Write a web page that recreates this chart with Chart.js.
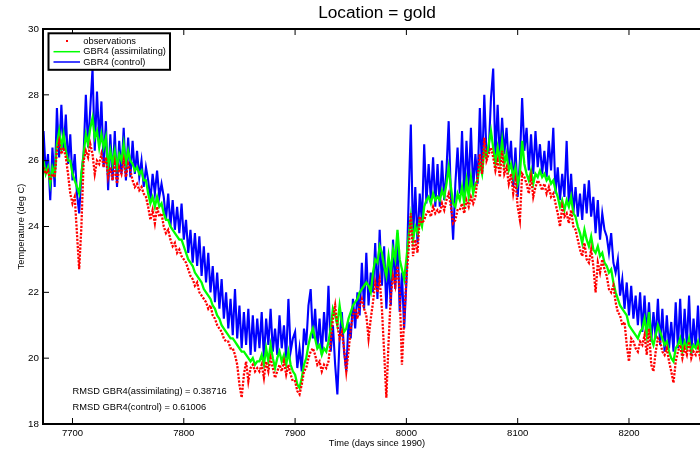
<!DOCTYPE html>
<html>
<head>
<meta charset="utf-8">
<script src="https://cdn.jsdelivr.net/npm/chart.js@4"></script>
<style>
  html, body { margin: 0; padding: 0; background: #fff; overflow: hidden; }
  #wrap { width: 720px; height: 454px; }
</style>
</head>
<body>
<div id="wrap"><canvas id="c" width="720" height="454"></canvas></div>
<script>
// ---- labels -------------------------------------------------------------
const chartTitle = 'Location = gold';
const xAxisTitle = 'Time (days since 1990)';
const yAxisTitle = 'Temperature (deg C)';
const seriesNames = ['observations', 'GBR4 (assimilating)', 'GBR4 (control)'];

const xTicks = [7700, 7800, 7900, 8000, 8100, 8200];
const xTickLabels = ['7700', '7800', '7900', '8000', '8100', '8200'];
const yTicks = [18, 20, 22, 24, 26, 28, 30];
const yTickLabels = ['18', '20', '22', '24', '26', '28', '30'];

// sampling grid: one value every two days starting at day 7674
const firstDay = 7674;
const dayStep = 2;

// ---- temperatures (deg C) ----------------------------------------------
const observations = [
  25.8, 25.6, 25.7, 25.4, 25.6, 25.5,
  26.3, 26.6, 26.2, 26.4, 26.1, 25.6,
  25.0, 24.7, 24.9, 23.8, 22.7, 24.0,
  26.0, 26.3, 26.1, 26.5, 26.2, 25.6, 26.0, 25.9,
  26.2, 25.8, 26.1, 25.5, 25.8, 25.4,
  25.9, 25.3, 25.8, 25.6, 26.0, 25.5, 25.9, 25.7,
  25.4, 25.2, 25.3, 25.1, 25.2, 25.0, 24.9,
  24.6, 24.2, 24.5, 24.1, 24.6, 24.3, 24.4,
  24.0, 23.8, 23.9, 23.6, 23.4, 23.5, 23.2, 23.3, 23.1, 23.0,
  22.9, 22.7, 22.5, 22.4, 22.2, 22.3, 22.0, 21.9, 21.8, 21.7, 21.5, 21.6, 21.3, 21.2, 21.0,
  20.9, 20.8, 20.6, 20.5, 20.5, 20.3, 20.3, 20.1, 19.8, 19.2, 18.8, 19.5, 19.9, 19.3, 19.7, 19.8, 19.6, 19.7,
  19.6, 19.8, 19.4, 19.9, 19.6, 20.0, 19.7, 19.4, 19.6, 19.8, 19.6, 19.9, 19.5, 19.8, 19.5, 19.3,
  19.3, 19.0, 18.9, 19.2, 19.6,
  19.7, 20.0, 20.2, 20.3, 20.1, 19.8, 19.9, 19.6, 19.8, 19.7, 19.9,
  20.5, 21.2, 21.6, 21.0, 20.6, 20.8, 20.3, 19.6, 20.2,
  20.9, 21.3, 21.5, 21.2, 21.6, 21.8, 21.5, 21.3, 20.6, 21.2,
  21.7, 22.3, 22.0, 22.4, 21.5, 20.2, 18.8, 20.5,
  21.9, 22.5, 22.2, 22.8, 22.0, 19.8, 21.2, 22.4,
  23.3, 24.4, 23.1, 23.6, 23.2, 24.3, 24.1,
  24.2, 24.4, 24.5, 24.3, 24.6, 24.4,
  24.5, 24.4, 24.7, 24.5, 24.8, 25.0, 24.6, 24.1, 24.2, 24.5,
  24.5, 24.7, 24.4, 24.8, 24.6, 24.9, 24.7, 24.9,
  25.5, 26.2, 25.6, 26.7, 26.0,
  26.2, 26.4, 26.1, 25.7,
  26.0, 25.5, 26.3, 25.6, 25.8, 25.3, 25.6,
  25.0, 25.4, 24.6, 24.2, 25.6, 25.5,
  25.3, 25.0, 25.5, 24.9, 25.2, 25.4,
  25.3, 25.1, 25.3, 25.0, 25.2, 24.9, 25.0,
  24.7, 24.4, 24.0, 24.6, 24.3,
  24.4, 24.1, 24.5, 24.0, 23.9,
  23.6, 23.3, 23.1, 23.5, 23.0, 22.9, 23.3, 22.8,
  22.0, 22.9, 22.6, 23.0, 22.7, 22.5, 22.1, 22.0, 22.2,
  21.7, 21.4, 21.3, 21.0, 21.1,
  20.4, 19.9, 20.6, 20.5, 20.3, 20.2, 20.5,
  20.4, 20.7, 20.1, 20.9, 19.8, 19.6, 20.2, 20.6,
  20.5, 20.2, 20.1, 20.3, 19.9, 19.6, 19.25, 19.9,
  20.2, 20.4, 20.0, 20.3, 20.1, 20.5, 20.0, 20.2, 20.1, 20.3, 20.0, 20.2, 20.1, 20.3, 20.2
];

const assimilating = [
  26.0, 25.6, 25.8, 25.3, 25.8, 25.6,
  26.5, 26.9, 26.4, 26.8, 26.3, 26.0,
  26.0, 25.6, 25.4, 25.2, 25.0, 25.6,
  26.2, 26.8, 26.5, 27.0, 27.3, 26.7, 26.9, 26.4,
  26.8, 26.4, 26.7, 25.8, 26.3, 25.9,
  26.3, 25.8, 26.2, 26.0, 26.5, 25.9, 26.3, 26.0,
  25.9, 25.7, 25.8, 25.6, 25.7, 25.4, 25.4,
  25.0, 24.7, 24.9, 24.6, 24.9, 24.6, 24.7,
  24.4, 24.2, 24.2, 24.0, 23.9, 23.8, 23.7, 23.6, 23.6, 23.4,
  23.2, 23.0, 22.9, 22.8, 22.6, 22.5, 22.4, 22.3, 22.1, 22.0, 21.9, 21.8, 21.6, 21.5, 21.3,
  21.2, 21.0, 20.9, 20.8, 20.7, 20.6, 20.6, 20.5, 20.4, 20.3, 20.2, 20.2, 20.1, 20.0, 19.9, 20.0, 19.8, 19.9,
  19.9, 20.1, 19.8, 20.3, 19.9, 20.4, 20.0, 19.7, 20.0, 20.2, 19.9, 20.1, 19.8, 20.2, 19.8, 19.6,
  19.5, 19.2, 19.1, 19.4, 19.8,
  20.0, 20.4, 20.7, 20.9, 20.6, 20.3, 20.4, 20.1, 20.3, 20.2, 20.5,
  20.9, 21.5, 21.3, 21.0, 21.6, 21.1, 20.8, 20.9, 21.2,
  21.4, 21.6, 21.7, 21.8, 22.0, 22.1, 22.2, 22.3, 22.2, 22.0,
  22.6, 23.0, 22.9, 23.4, 23.2, 22.8, 22.5, 23.1,
  22.6, 23.3, 23.0, 23.9, 23.0, 22.7, 22.4, 23.0,
  23.7, 24.3, 23.6, 24.0, 23.8, 24.2, 24.0,
  24.6, 24.8, 24.9, 24.7, 25.0, 24.8,
  24.9, 24.8, 25.1, 24.9, 25.3, 25.8, 25.2, 24.7, 24.6, 25.0,
  24.8, 25.2, 24.7, 25.4, 24.9, 25.5, 25.0, 25.3,
  25.4, 25.9, 25.6, 26.3, 26.1,
  26.5, 26.9, 26.4, 25.9,
  26.4, 26.0, 26.6, 25.9, 26.2, 25.7, 25.9,
  25.5, 25.8, 25.3, 25.6, 26.6, 25.9,
  25.6, 25.4, 25.7, 25.3, 25.6, 25.5,
  25.7, 25.5, 25.6, 25.4, 25.5, 25.3, 25.4,
  25.1, 24.9, 24.6, 24.8, 24.5,
  24.8, 24.6, 24.9, 24.4, 24.3,
  24.0, 23.8, 23.5, 23.9, 23.6, 23.4, 23.7, 23.3,
  23.2, 23.4, 23.1, 23.2, 22.9, 22.8, 22.6, 22.7, 22.3,
  22.0, 21.8, 21.6, 21.5, 21.4,
  21.3, 21.0, 20.9, 20.8, 20.7, 20.6, 20.8,
  20.9, 21.2, 20.7, 21.4, 20.6, 20.4, 20.7, 21.0,
  20.8, 20.6, 20.4, 20.5, 20.2, 20.0, 19.9, 20.3,
  20.4, 20.6, 20.2, 20.5, 20.3, 20.6, 20.2, 20.4, 20.3, 20.5, 20.2, 20.4, 20.3, 20.5, 20.3
];

const control = [
  26.9, 25.6, 26.2, 24.8, 26.4, 25.2,
  27.6, 26.1, 27.7, 26.3, 27.4, 25.9,
  26.8, 25.4, 26.2, 25.0, 24.4, 25.6,
  26.2, 28.0, 26.4, 27.6, 28.8, 26.3, 28.1, 26.6,
  27.8, 25.8, 27.2, 25.1, 26.8, 25.4,
  26.9, 25.2, 26.6, 25.6, 27.0, 25.4, 26.7, 25.5,
  26.6, 25.6, 26.3, 25.5, 26.0, 25.2, 25.8,
  25.4, 24.8, 25.6, 25.0, 25.7, 24.9, 25.3,
  24.9, 24.2, 25.0, 24.0, 24.8, 23.9, 24.6, 23.8, 24.7, 23.6,
  24.2, 23.2, 23.9, 22.9, 23.8, 22.8, 23.7, 22.5, 23.4, 22.3, 23.2, 22.0, 22.8, 21.7, 22.6,
  21.5, 22.4, 21.2, 22.0, 20.9, 21.8, 20.7, 22.1, 20.6, 21.6, 20.3, 21.4, 20.4, 21.5, 20.1, 21.3, 20.2, 21.2,
  20.3, 21.4, 20.0, 21.2, 20.4, 21.5, 20.2, 20.9, 20.1, 21.3, 20.3, 21.0, 20.0, 21.8, 20.2, 20.6,
  20.8, 19.7, 20.3, 19.6, 20.9,
  20.4, 21.6, 22.1, 20.6, 21.5, 20.3, 21.2, 20.1, 21.4, 20.5, 22.2,
  20.2, 21.0, 19.8, 18.9, 20.6, 21.4, 20.2, 19.6, 21.1,
  20.6, 21.8, 20.9, 22.0, 21.3, 22.9, 21.5, 23.2, 21.6, 22.6,
  22.0, 23.5, 21.8, 23.9, 22.2, 23.4, 21.5, 22.9,
  21.6, 23.6, 22.1, 23.8, 21.4, 22.6, 20.9, 22.3,
  24.8, 27.1, 23.6, 25.2, 23.5, 25.0, 24.1,
  26.5, 24.7, 25.9, 24.8, 26.1, 24.6,
  25.9, 24.6, 26.0, 24.8, 25.7, 27.2, 24.9, 23.6, 25.3, 26.4,
  25.0, 26.9, 24.9, 26.6, 25.2, 27.0, 25.1, 26.2,
  25.3, 27.6, 25.6, 28.0, 26.2,
  26.3, 27.9, 28.8, 26.1,
  27.7, 26.0, 27.3, 26.2, 27.0, 25.8, 26.6,
  25.2, 26.4, 24.9, 26.0, 27.9, 26.3,
  27.0, 25.7, 26.8, 25.6, 26.9, 25.8,
  26.5, 25.6, 26.3, 25.5, 26.6, 25.7, 27.0,
  25.0, 25.8, 24.8, 25.6, 24.9,
  26.6, 24.6, 25.6, 24.4, 25.2,
  24.3, 25.0, 24.2, 25.3, 24.4, 25.4, 24.3, 24.9,
  23.8, 24.8, 23.6, 24.4, 23.9, 23.7, 23.2, 23.8, 22.9,
  22.6, 23.0, 21.9, 22.4, 21.5,
  22.3, 21.3, 22.2, 21.2, 21.9, 21.0, 22.0,
  20.8, 21.9, 20.7, 21.7, 20.5, 21.4, 20.6, 21.8,
  20.4, 21.5, 20.2, 21.3, 20.3, 21.1, 20.2, 21.7,
  20.3, 21.8, 20.2, 21.5, 20.4, 21.9, 20.1, 21.2, 20.3, 21.6, 20.2, 21.0, 20.4, 21.3, 20.3
];

const rmsdNames = ['RMSD GBR4(assimilating)', 'RMSD GBR4(control)'];
const rmsdValues = [0.38716, 0.61006];

// ---- helpers ------------------------------------------------------------
const FONT = '"Liberation Sans", Arial, Helvetica, sans-serif';
const toPoints = vals => vals.map((v, i) => ({ x: firstDay + i * dayStep, y: v }));

// axes frame with inward ticks, boxed legend and RMSD annotations
const matlabFrame = {
  id: 'matlabFrame',
  afterDatasetsDraw(chart) {
    const { ctx, chartArea: a, scales: { x, y } } = chart;
    ctx.save();
    ctx.strokeStyle = '#000';
    ctx.lineWidth = 1;
    ctx.beginPath();
    x.ticks.forEach(t => {
      const px = x.getPixelForValue(t.value);
      ctx.moveTo(px, a.bottom); ctx.lineTo(px, a.bottom - 6);
      ctx.moveTo(px, a.top); ctx.lineTo(px, a.top + 6);
    });
    y.ticks.forEach(t => {
      const py = y.getPixelForValue(t.value);
      ctx.moveTo(a.left, py); ctx.lineTo(a.left + 6, py);
      ctx.moveTo(a.right, py); ctx.lineTo(a.right - 6, py);
    });
    ctx.stroke();

    ctx.lineWidth = 2;
    ctx.strokeRect(a.left, a.top, a.right - a.left, a.bottom - a.top);

    // legend box
    const lx = a.left + 5.5, ly = a.top + 4.3, lw = 121.5, lh = 36.5;
    ctx.fillStyle = '#fff';
    ctx.fillRect(lx, ly, lw, lh);
    ctx.lineWidth = 2;
    ctx.strokeRect(lx, ly, lw, lh);
    ctx.font = '9.3px ' + FONT;
    ctx.textBaseline = 'middle';
    ctx.textAlign = 'left';
    const rowY = [a.top + 12, a.top + 22.7, a.top + 33];
    chart.data.datasets.forEach((ds, i) => {
      const ry = rowY[i];
      if (i === 0) {
        ctx.fillStyle = ds.borderColor;
        ctx.fillRect(a.left + 23, ry - 1, 2, 2);
      } else {
        ctx.strokeStyle = ds.borderColor;
        ctx.lineWidth = 1.5;
        ctx.beginPath();
        ctx.moveTo(a.left + 10.5, ry);
        ctx.lineTo(a.left + 37, ry);
        ctx.stroke();
      }
      ctx.fillStyle = '#000';
      ctx.fillText(ds.label, a.left + 40.3, ry);
    });

    // RMSD text anchored in data coordinates
    const anchorDay = 7700, anchorTemps = [19.0, 18.5];
    rmsdNames.forEach((name, i) => {
      ctx.fillText(name + ' = ' + rmsdValues[i],
        x.getPixelForValue(anchorDay), y.getPixelForValue(anchorTemps[i]));
    });
    ctx.restore();
  }
};

new Chart(document.getElementById('c'), {
  type: 'line',
  data: {
    datasets: [
      {
        label: seriesNames[0],
        data: toPoints(observations),
        borderColor: '#ff0000',
        borderWidth: 2.3,
        borderDash: [2.2, 1.4],
        borderCapStyle: 'butt',
        pointRadius: 0,
        fill: false
      },
      {
        label: seriesNames[1],
        data: toPoints(assimilating),
        borderColor: '#00ff00',
        borderWidth: 2.3,
        pointRadius: 0,
        fill: false
      },
      {
        label: seriesNames[2],
        data: toPoints(control),
        borderColor: '#0000ff',
        borderWidth: 2.1,
        pointRadius: 0,
        fill: false
      }
    ]
  },
  options: {
    responsive: false,
    animation: false,
    events: [],
    layout: { padding: { left: 0, right: 9, top: 0, bottom: 0 } },
    plugins: {
      legend: { display: false },
      tooltip: { enabled: false },
      title: {
        display: true,
        text: chartTitle,
        fullSize: false,
        color: '#000',
        font: { family: FONT, size: 17.3, weight: 'normal', lineHeight: 1.2 },
        padding: { top: 3.3, bottom: 4.94 }
      }
    },
    scales: {
      x: {
        type: 'linear',
        position: 'bottom',
        min: 7673.5,
        max: 8273.7,
        grid: { display: false, drawTicks: false },
        border: { display: false },
        afterBuildTicks: s => { s.ticks = xTicks.map(v => ({ value: v })); },
        afterFit: s => { s.height = 30; },
        ticks: {
          color: '#000',
          font: { family: FONT, size: 9.5 },
          padding: 4,
          maxRotation: 0,
          autoSkip: false,
          callback: v => xTickLabels[xTicks.indexOf(v)]
        },
        title: {
          display: true,
          text: xAxisTitle,
          color: '#000',
          font: { family: FONT, size: 9.3 },
          padding: { top: 0, bottom: 4.7 }
        }
      },
      y: {
        type: 'linear',
        position: 'left',
        min: 18,
        max: 30,
        grid: { display: false, drawTicks: false },
        border: { display: false },
        afterBuildTicks: s => { s.ticks = yTicks.map(v => ({ value: v })); },
        afterFit: s => { s.width = 43; },
        ticks: {
          color: '#000',
          font: { family: FONT, size: 9.8 },
          padding: 4,
          autoSkip: false,
          callback: v => yTickLabels[yTicks.indexOf(v)]
        },
        title: {
          display: true,
          text: yAxisTitle,
          color: '#000',
          font: { family: FONT, size: 9.3 },
          padding: { top: 15.9, bottom: 0 }
        }
      }
    }
  },
  plugins: [matlabFrame]
});
</script>
</body>
</html>
